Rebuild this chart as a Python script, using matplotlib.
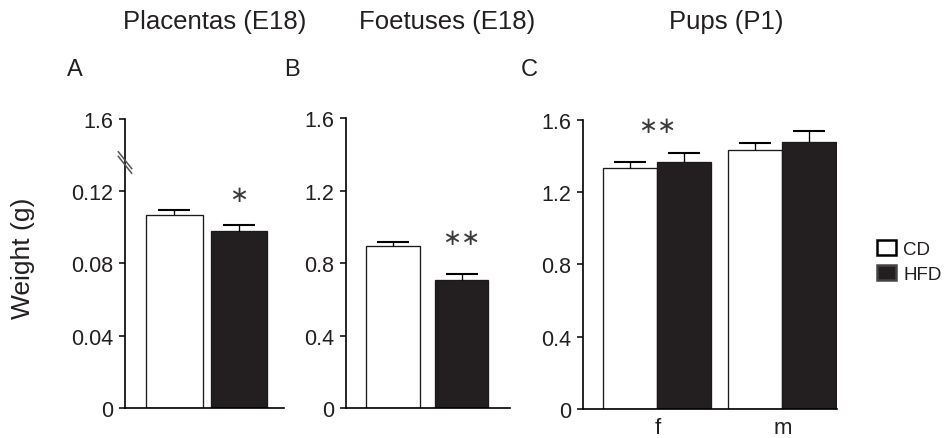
import matplotlib
matplotlib.use("Agg")
import matplotlib.pyplot as plt
from matplotlib.patches import Patch
from matplotlib.lines import Line2D
import numpy as np

plt.rcParams['font.family'] = ['Liberation Sans', 'DejaVu Sans']

# ---- data ----
groups = ["CD", "HFD"]
placenta_mean = [0.1064, 0.0981]
placenta_sem = [0.0028, 0.0033]
foetus_mean = [0.897, 0.710]
foetus_sem = [0.022, 0.033]
pup_sex = ["f", "m"]
pup_cd_mean = [1.333, 1.435]
pup_cd_sem = [0.032, 0.038]
pup_hfd_mean = [1.368, 1.479]
pup_hfd_sem = [0.047, 0.059]

placenta_ticks = [0, 0.04, 0.08, 0.12, 0.16]
placenta_ticklabels = ["0", "0.04", "0.08", "0.12", "1.6"]
weight_ticks = [0, 0.4, 0.8, 1.2, 1.6]
weight_ticklabels = ["0", "0.4", "0.8", "1.2", "1.6"]

W, H = 947, 439
fig = plt.figure(figsize=(W / 100, H / 100), dpi=100)

WHITE = "white"
BLACK = "#231f20"
EDGE = "#1a1a1a"
TXT = "#231f20"
CAPC = "#555555"
STAR = "#3a3a3a"


def px_axes(x0, x1, ytop, ybot):
    return fig.add_axes([x0 / W, 1 - ybot / H, (x1 - x0) / W, (ybot - ytop) / H])


def style(ax, ticks, labels):
    for s in ("top", "right"):
        ax.spines[s].set_visible(False)
    for s in ("left", "bottom"):
        ax.spines[s].set_linewidth(1.2)
        ax.spines[s].set_color("black")
    ax.set_yticks(ticks)
    ax.set_yticklabels(labels)
    ax.tick_params(axis="y", length=4.5, width=1.1, pad=4, labelsize=15.5,
                   labelcolor=TXT, direction="out")
    ax.tick_params(axis="x", length=0, pad=6, labelsize=16, labelcolor=TXT)


def bars(ax, x, means, sems, color, width, capsize):
    ax.bar(x, means, width=width, color=color, edgecolor=EDGE, linewidth=0.95, zorder=2)
    eb = ax.errorbar(x, means, yerr=[np.zeros(len(means)), sems], fmt="none",
                     ecolor="black", elinewidth=0.95, capsize=capsize,
                     capthick=1.5, zorder=3)
    caps = eb[1]
    caps[0].set_visible(False)
    caps[1].set_color(CAPC)


def stars(ax, x, y, s):
    ax.text(x, y, s, ha="center", va="center", fontsize=16.5, color=STAR,
            family=["DejaVu Sans"])


# ---- A: placentas ----
axA = px_axes(125, 284, 119.5, 409)
xA = np.arange(2)
bars(axA, xA[:1], placenta_mean[:1], placenta_sem[:1], WHITE, 0.877, 11.5)
bars(axA, xA[1:], placenta_mean[1:], placenta_sem[1:], BLACK, 0.877, 11.5)
axA.set_xlim(-0.763, 1.696)
axA.set_ylim(0, 0.16)
axA.set_xticks([])
style(axA, placenta_ticks, placenta_ticklabels)
# axis break marks on the y axis
for dy in (0.0, -0.016):
    axA.add_line(Line2D([-0.042, 0.042], [0.885 + dy, 0.827 + dy],
                        transform=axA.transAxes, color="#555555", lw=1.1,
                        clip_on=False, zorder=5))
stars(axA, 1, placenta_mean[1] + placenta_sem[1] + 0.0167, "\u2217")

# ---- B: foetuses ----
axB = px_axes(346, 510, 119.3, 409.3)
xB = np.arange(2)
bars(axB, xB[:1], foetus_mean[:1], foetus_sem[:1], WHITE, 0.78, 11.5)
bars(axB, xB[1:], foetus_mean[1:], foetus_sem[1:], BLACK, 0.78, 11.5)
axB.set_xlim(-0.685, 1.704)
axB.set_ylim(0, 1.6)
axB.set_xticks([])
style(axB, weight_ticks, weight_ticklabels)
stars(axB, 1, foetus_mean[1] + foetus_sem[1] + 0.197, "\u2217\u2217")

# ---- C: pups ----
axC = px_axes(582.7, 837, 120.7, 410)
xC = np.arange(2)
bw = 0.432
bars(axC, xC - bw / 2, pup_cd_mean, pup_cd_sem, WHITE, bw, 11.5)
bars(axC, xC + bw / 2, pup_hfd_mean, pup_hfd_sem, BLACK, bw, 11.5)
axC.set_xlim(-0.598, 1.436)
axC.set_ylim(0, 1.6)
axC.set_xticks(xC)
axC.set_xticklabels(pup_sex)
style(axC, weight_ticks, weight_ticklabels)
stars(axC, 0, pup_hfd_mean[0] + pup_hfd_sem[0] + 0.151, "\u2217\u2217")

# ---- titles, panel letters, shared label ----
fig.text(215 / W, 1 - 22 / H, "Placentas (E18)", ha="center", va="center",
         fontsize=18.5, color=TXT)
fig.text(447 / W, 1 - 22 / H, "Foetuses (E18)", ha="center", va="center",
         fontsize=18.5, color=TXT)
fig.text(726 / W, 1 - 22 / H, "Pups (P1)", ha="center", va="center",
         fontsize=18.5, color=TXT)
for lx, letter in ((75, "A"), (292, "B"), (529, "C")):
    fig.text(lx / W, 1 - 70 / H, letter, ha="center", va="center",
             fontsize=17, color=TXT)
fig.text(23 / W, 1 - 258 / H, "Weight (g)", ha="center", va="center",
         rotation=90, fontsize=19, color=TXT)

# ---- legend ----
handles = [Patch(facecolor=WHITE, edgecolor="black", linewidth=1.8),
           Patch(facecolor=BLACK, edgecolor="#444444", linewidth=1.8)]
fig.legend(handles, groups, loc="upper left",
           bbox_to_anchor=(877 / W, 1 - 241 / H), frameon=False,
           fontsize=13.5, handlelength=1.0, handleheight=0.85,
           handletextpad=0.4, labelspacing=0.4, borderpad=0,
           borderaxespad=0, labelcolor=TXT)

fig.savefig("out.png", dpi=100)
